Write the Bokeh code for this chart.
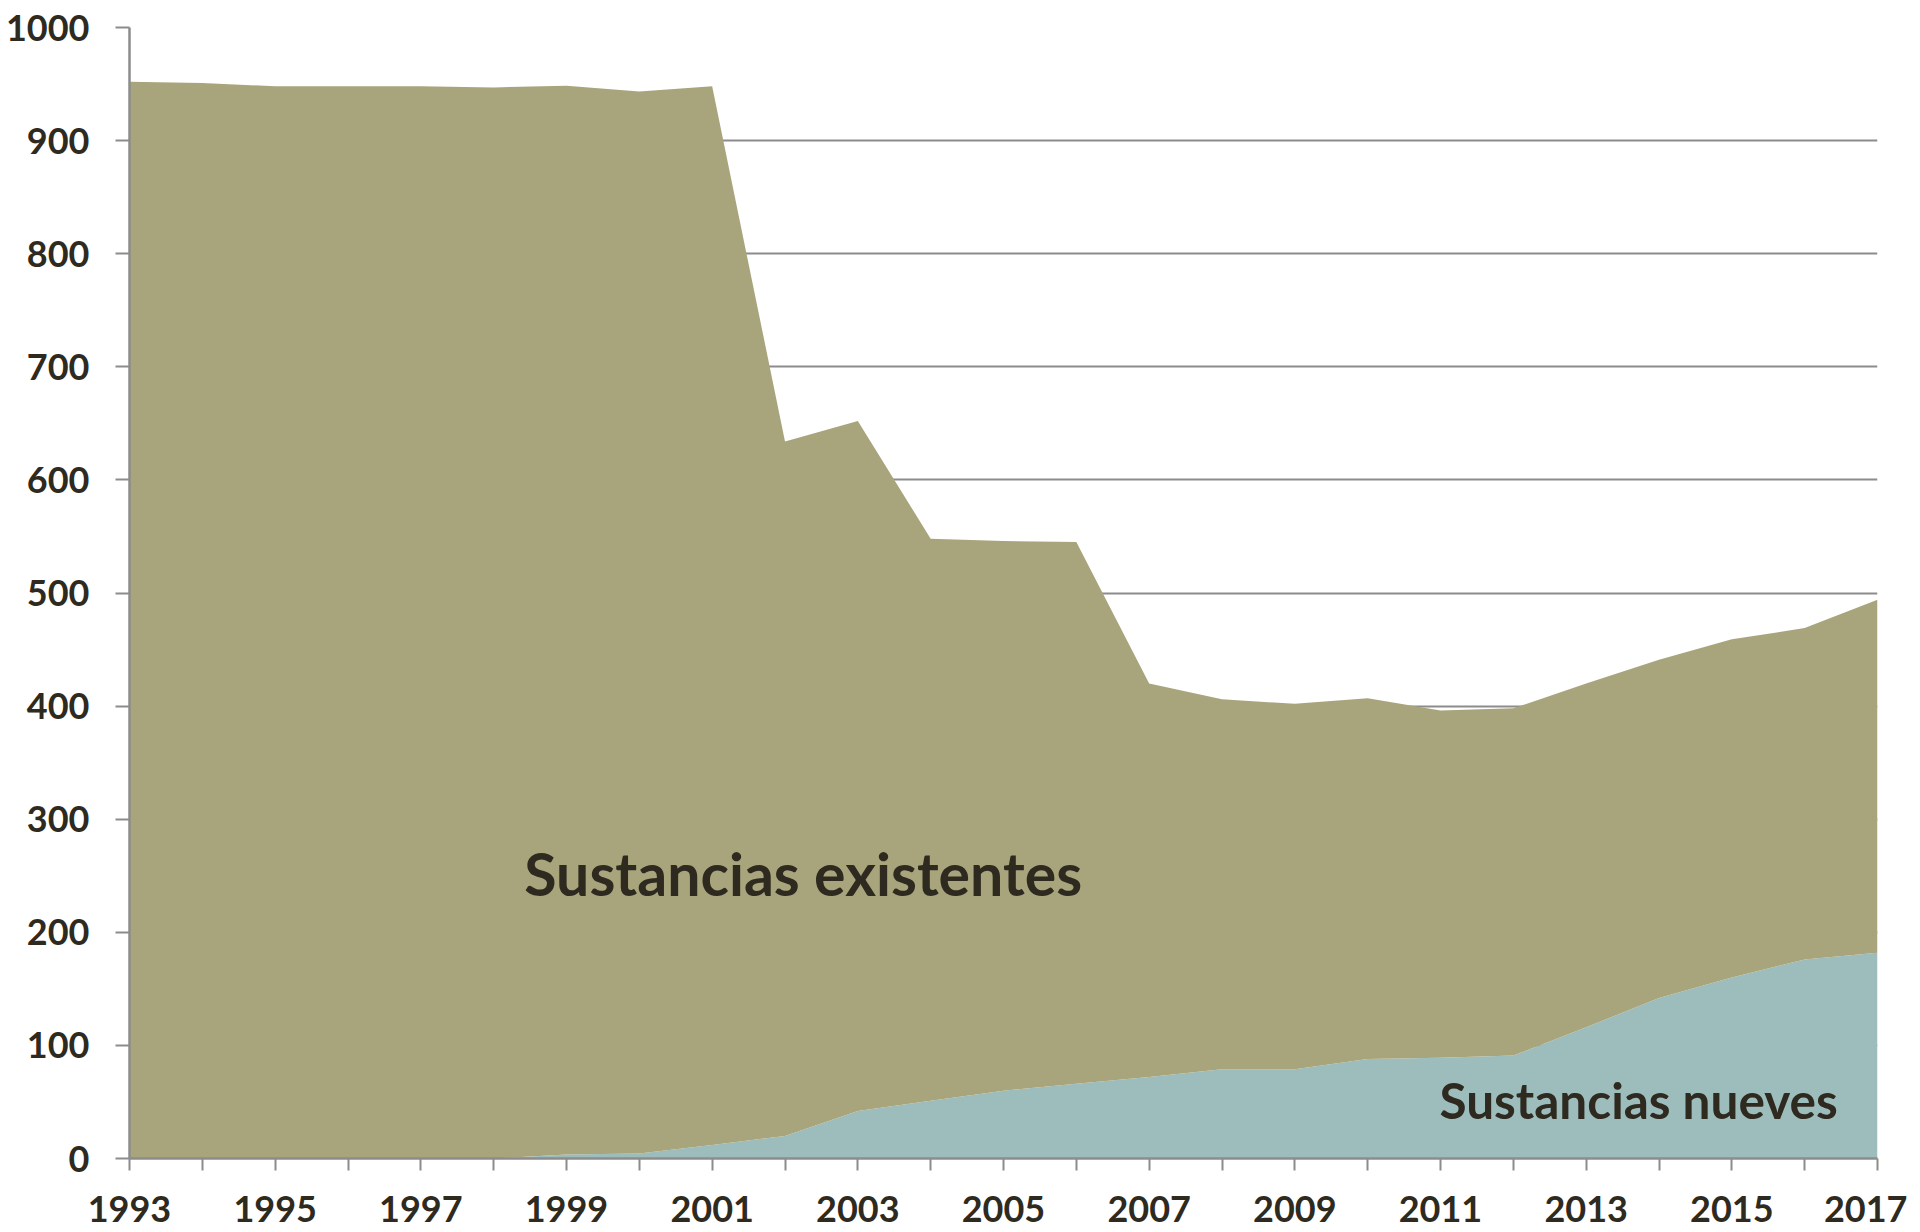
from bokeh.plotting import figure
from bokeh.models import ColumnDataSource, FixedTicker, Range1d
from bokeh.core.properties import value
from bokeh.embed import file_html
from bokeh.resources import INLINE

years = list(range(1993, 2018))
nueves = [0, 0, 0, 0, 0, 0, 3.5, 4.5, 12, 20, 42, 51, 60, 66, 72, 79, 79, 88, 89, 91, 116, 142, 160, 176, 182]
existentes = [952, 951, 948, 948, 948, 947, 945, 939, 936, 614, 610, 497, 486, 479, 348, 327, 323, 319, 307, 307, 304, 299, 299, 293, 312]
x_tick_years = list(range(1993, 2018, 2))
x_minor_years = list(range(1994, 2017, 2))
y_ticks = list(range(0, 1001, 100))

label_existentes = "Sustancias existentes"
label_nueves = "Sustancias nueves"

src = ColumnDataSource(dict(year=years, nueves=nueves, existentes=existentes))

FONT = "Lato"
TXT = "#2e2a20"
GRAY = "#8c8c8c"

p = figure(frame_width=1748, frame_height=1131, output_backend="svg", toolbar_location=None,
           x_range=Range1d(1993, 2017), y_range=Range1d(0, 1000),
           min_border_left=129, min_border_right=30, min_border_top=27, min_border_bottom=70)
p.outline_line_color = None
p.background_fill_color = "white"

p.varea_stack(stackers=["nueves", "existentes"], x="year", source=src,
              color=["#9dbdbd", "#a8a57c"])

p.xgrid.visible = False
p.ygrid.ticker = FixedTicker(ticks=y_ticks)
p.ygrid.grid_line_color = GRAY
p.ygrid.grid_line_width = 2
p.ygrid.level = "underlay"

p.yaxis.ticker = FixedTicker(ticks=y_ticks)
p.xaxis.ticker = FixedTicker(ticks=x_tick_years, minor_ticks=x_minor_years)

for ax in (p.xaxis, p.yaxis):
    ax.axis_line_color = GRAY
    ax.axis_line_width = 2.5
    ax.major_tick_line_color = GRAY
    ax.major_tick_line_width = 2
    ax.minor_tick_line_color = GRAY
    ax.minor_tick_line_width = 2
    ax.major_tick_in = 0
    ax.minor_tick_in = 0
    ax.major_label_text_font = FONT
    ax.major_label_text_font_style = "bold"
    ax.major_label_text_font_size = "36px"
    ax.major_label_text_color = TXT

p.yaxis.major_tick_out = 14
p.yaxis.minor_tick_out = 0
p.yaxis.major_label_standoff = 26
p.xaxis.major_tick_out = 12
p.xaxis.minor_tick_out = 12
p.xaxis.major_label_standoff = 25

p.text(x=[2002.25], y=[252], text=[label_existentes], text_font=value(FONT),
       text_font_style="bold", text_font_size="59px", text_color=TXT,
       text_align="center", text_baseline="alphabetic")
p.text(x=[2013.72], y=[52], text=[label_nueves], text_font=value(FONT),
       text_font_style="bold", text_font_size="49.5px", text_color=TXT,
       text_align="center", text_baseline="alphabetic")

open("out.html", "w").write(file_html(p, INLINE))
